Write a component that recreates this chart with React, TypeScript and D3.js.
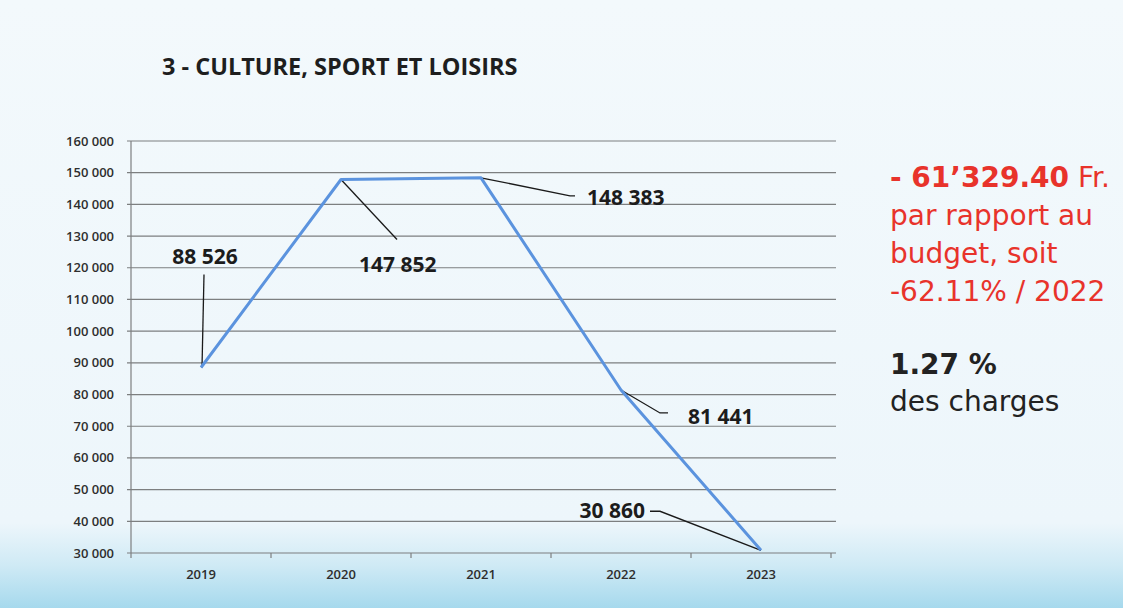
import * as d3 from "d3";
import React from "react";

const years = ["2019", "2020", "2021", "2022", "2023"];
const charges = [88526, 147852, 148383, 81441, 30860];
const yTicks = [30000, 40000, 50000, 60000, 70000, 80000, 90000, 100000, 110000, 120000, 130000, 140000, 150000, 160000];

const title = "3 - CULTURE, SPORT ET LOISIRS";
const budgetDiff = "- 61\u2019329.40";
const budgetLines = ["par rapport au", "budget, soit", "-62.11% / 2022"];
const shareValue = "1.27 %";
const shareText = "des charges";

// label placement relative to each point (text offset + leader polyline)
const labelLayout = [
  { tx: 4, ty: -104, anchor: "middle", leader: [[3, -93], [1, 0]] },
  { tx: 18, ty: 93, anchor: "start", leader: [[0, 0], [56, 60]] },
  { tx: 106, ty: 27, anchor: "start", leader: [[0, 0], [89, 18], [94, 18]] },
  { tx: 67, ty: 34, anchor: "start", leader: [[0, 0], [39, 23], [47, 23]] },
  { tx: -116, ty: -32, anchor: "end", leader: [[-111, -39], [-101, -39], [0, 0]] },
];

const fmt = (v: number) => d3.format(",")(v).replace(/,/g, " ");

export default function App() {
  const width = 1123;
  const height = 608;
  const left = 131;
  const right = 831;
  const top = 141;
  const bottom = 553;

  const x = d3.scaleBand().domain(years).range([left, right]);
  const y = d3.scaleLinear().domain([30000, 160000]).range([bottom, top]);
  const cx = (yr: string) => (x(yr) ?? 0) + x.bandwidth() / 2;

  const line = d3
    .line<number>()
    .x((_, i) => cx(years[i]))
    .y((d) => y(d));

  const gridColor = "#7d7f80";

  return (
    <svg
      width={width}
      height={height}
      style={{ position: "absolute", left: 0, top: 0 }}
    >
      <defs>
        <linearGradient id="bg" x1="0" y1="0" x2="0" y2="1">
          <stop offset="0" stopColor="#f3f9fc" />
          <stop offset="0.86" stopColor="#edf6fb" />
          <stop offset="0.93" stopColor="#cfeaf5" />
          <stop offset="1" stopColor="#a6d9ed" />
        </linearGradient>
      </defs>
      <rect width={width} height={height} fill="url(#bg)" />

      <text
        x={162}
        y={75}
        fontFamily="Open Sans"
        fontWeight={700}
        fontSize={23.5}
        fill="#1e1e1e"
      >
        {title}
      </text>

      {/* grid + y ticks */}
      {yTicks.map((t) => (
        <g key={t}>
          <line
            x1={left - 4}
            x2={right + 5}
            y1={y(t)}
            y2={y(t)}
            stroke={gridColor}
            strokeWidth={1.2}
          />
          <text
            x={114}
            y={y(t)}
            dy="0.35em"
            textAnchor="end"
            fontFamily="Open Sans"
            fontWeight={600}
            fontSize={13}
            fill="#2e2e2e"
          >
            {fmt(t)}
          </text>
        </g>
      ))}
      <line x1={left} x2={left} y1={top} y2={bottom} stroke={gridColor} strokeWidth={1.2} />
      {years.map((yr) => (
        <line
          key={yr}
          x1={x(yr) ?? 0}
          x2={x(yr) ?? 0}
          y1={bottom}
          y2={bottom + 5}
          stroke={gridColor}
          strokeWidth={1.2}
        />
      ))}
      <line x1={right} x2={right} y1={bottom} y2={bottom + 5} stroke={gridColor} strokeWidth={1.2} />
      {years.map((yr) => (
        <text
          key={yr}
          x={cx(yr)}
          y={579}
          textAnchor="middle"
          fontFamily="Open Sans"
          fontWeight={600}
          fontSize={13}
          fill="#2e2e2e"
        >
          {yr}
        </text>
      ))}

      {/* leaders */}
      {charges.map((v, i) => {
        const px = cx(years[i]);
        const py = y(v);
        const l = labelLayout[i];
        const pts = l.leader.map(([dx, dy]) => [px + dx, py + dy] as [number, number]);
        return (
          <path
            key={"l" + i}
            d={d3.line()(pts) ?? ""}
            fill="none"
            stroke="#1a1a1a"
            strokeWidth={1.3}
          />
        );
      })}

      <path
        d={line(charges) ?? ""}
        fill="none"
        stroke="#5b93de"
        strokeWidth={3}
        strokeLinejoin="round"
      />

      {charges.map((v, i) => {
        const l = labelLayout[i];
        return (
          <text
            key={"t" + i}
            x={cx(years[i]) + l.tx}
            y={y(v) + l.ty}
            textAnchor={l.anchor as "start" | "middle" | "end"}
            fontFamily="Open Sans"
            fontWeight={700}
            fontSize={21}
            fill="#1c1c1c"
          >
            {fmt(v)}
          </text>
        );
      })}

      {/* side notes */}
      <g fontFamily="DejaVu Sans" fontSize={28}>
        <text x={890} y={187} fill="#e8332b">
          <tspan fontWeight={700}>{budgetDiff}</tspan>
          <tspan> Fr.</tspan>
        </text>
        {budgetLines.map((t, i) => (
          <text key={t} x={890} y={225 + i * 38} fill="#e8332b">
            {t}
          </text>
        ))}
        <text x={890} y={374} fill="#222" fontWeight={700}>
          {shareValue}
        </text>
        <text x={890} y={411} fill="#222">
          {shareText}
        </text>
      </g>
    </svg>
  );
}
